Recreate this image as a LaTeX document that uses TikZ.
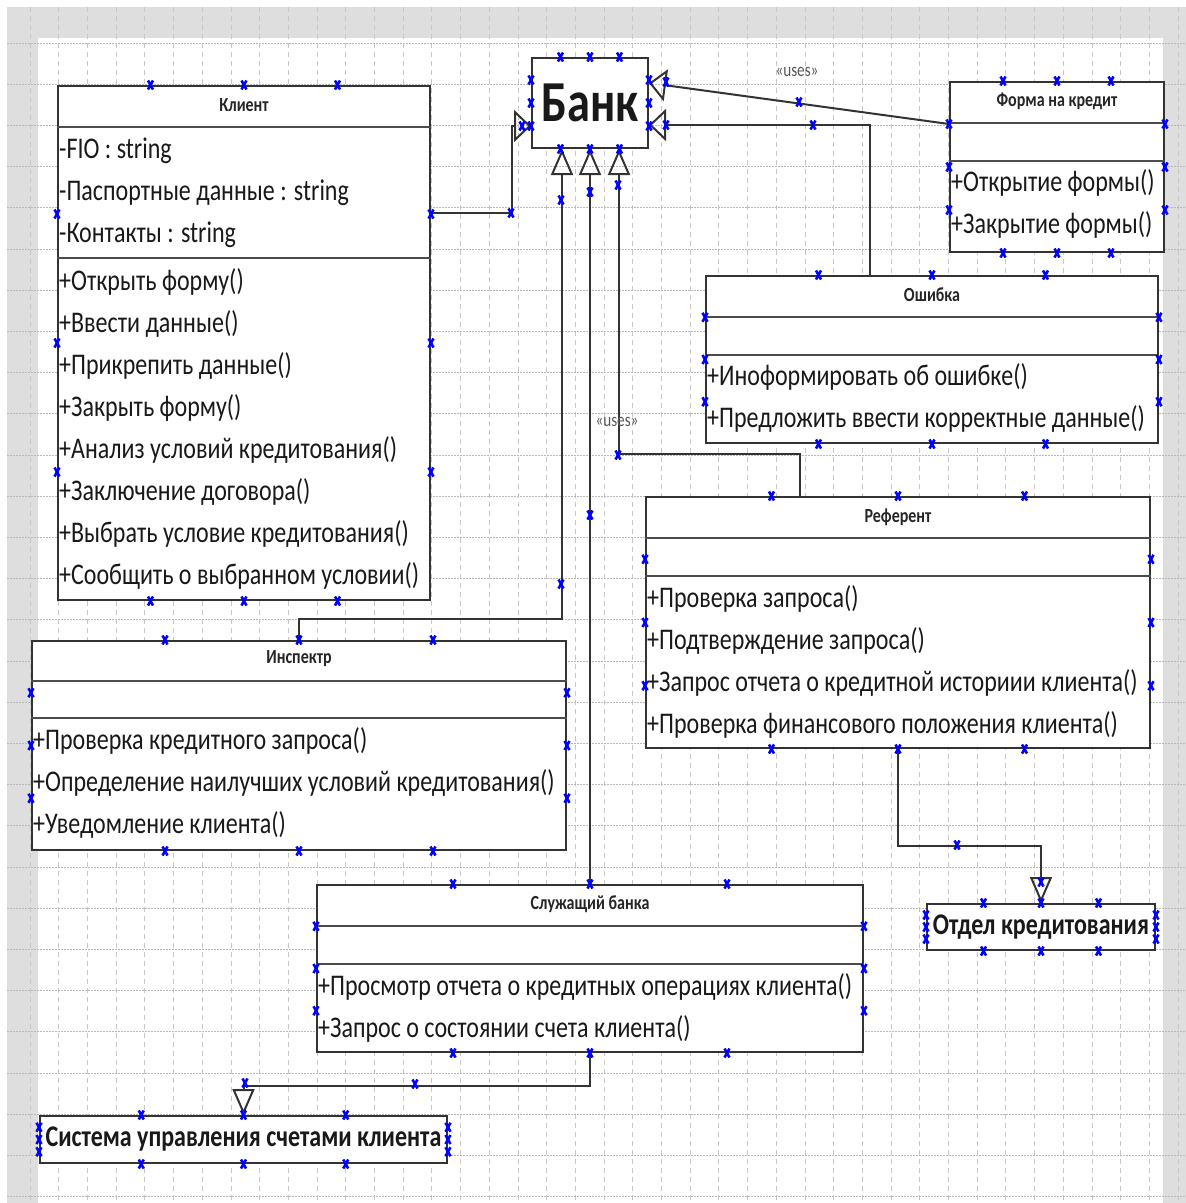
\documentclass[tikz,border=0pt]{standalone}
\usepackage{fontspec}
\newfontfamily\umlfont[FakeStretch=0.8]{Carlito}
\usetikzlibrary{calc,arrows.meta}

\tikzset{
  classbox/.style={draw=black!80, line width=2pt, fill=white, inner sep=0pt},
  sep/.style={draw=black!70, line width=2.5pt},
  title/.style={font=\umlfont\bfseries\fontsize{20}{24}\selectfont, text=black!85, inner sep=0pt},
  member/.style={font=\umlfont\fontsize{30}{36}\selectfont, text=black!90, anchor=west, inner sep=0pt},
  bigname/.style={font=\umlfont\bfseries\fontsize{30}{36}\selectfont, text=black!90},
  uses/.style={font=\umlfont\fontsize{19}{22}\selectfont, text=black!65, inner sep=0pt},
  genv/.style={draw=black!80, line width=2pt, -{Triangle[open, length=26pt, width=22pt]}},
  genh/.style={draw=black!80, line width=2pt, -{Triangle[open, length=17pt, width=32pt]}},
  vgrid/.style={draw=black!22, line width=0.8pt, dash pattern=on 5pt off 4pt},
  hgrid/.style={draw=black!28, line width=0.8pt, dash pattern=on 1.5pt off 1.5pt},
  handle/.style={draw=blue, line width=2.6pt},
}
\newcommand\hmark[1]{\draw[handle] #1 +(-2.5,-4.5) -- +(2.5,4.5) #1 +(-2.5,4.5) -- +(2.5,-4.5);}

\begin{document}
\begin{tikzpicture}[x=1pt, y=-1pt]
\useasboundingbox (0,0) rectangle (1186,1203);

% page and grid
\fill[white] (0,0) rectangle (1186,1203);
\fill[black!13] (7,7) rectangle (1186,1203);
\fill[white] (38,38) rectangle (1163,1203);
\foreach \i in {0,...,40} \draw[vgrid] ({30+28.7*\i},7) -- ({30+28.7*\i},1203);
\foreach \i in {0,...,28} \draw[hgrid] (7,{43+41.2*\i}) -- (1186,{43+41.2*\i});

% classes
\node[classbox, minimum width=116pt, minimum height=90pt, font=\umlfont\bfseries\fontsize{58}{64}\selectfont, text=black!90] (bank) at (590,103) {Банк};

\node[classbox, minimum width=372pt, minimum height=514pt] (klient) at (244,343) {};
\draw[sep] ($(klient.north west)+(0,42)$) -- ($(klient.north east)+(0,42)$);
\draw[sep] ($(klient.north west)+(0,173)$) -- ($(klient.north east)+(0,173)$);
\node[title] (klient-t) at ($(klient.north)+(0,20)$) {Клиент};
\foreach \t [count=\i] in {-FIO : string, -Паспортные данные : string, -Контакты : string}
  \node[member] (klient-a\i) at ($(klient.north west)+(2,24+42*\i)$) {\t};
\foreach \t [count=\i] in {+Открыть форму(), +Ввести данные(), +Прикрепить данные(), +Закрыть форму(), +Анализ условий кредитования(), +Заключение договора(), +Выбрать условие кредитования(), +Сообщить о выбранном условии()}
  \node[member] (klient-m\i) at ($(klient.north west)+(2,155+42*\i)$) {\t};

\node[classbox, minimum width=214pt, minimum height=170pt] (forma) at (1057,167) {};
\draw[sep] ($(forma.north west)+(0,42)$) -- ($(forma.north east)+(0,42)$);
\draw[sep] ($(forma.north west)+(0,80)$) -- ($(forma.north east)+(0,80)$);
\node[title] (forma-t) at ($(forma.north)+(0,20)$) {Форма на кредит};
\foreach \t [count=\i] in {+Открытие формы(), +Закрытие формы()}
  \node[member] (forma-m\i) at ($(forma.north west)+(2,60+42*\i)$) {\t};

\node[classbox, minimum width=452pt, minimum height=167pt] (oshibka) at (932,359.5) {};
\draw[sep] ($(oshibka.north west)+(0,42)$) -- ($(oshibka.north east)+(0,42)$);
\draw[sep] ($(oshibka.north west)+(0,80)$) -- ($(oshibka.north east)+(0,80)$);
\node[title] (oshibka-t) at ($(oshibka.north)+(0,20)$) {Ошибка};
\foreach \t [count=\i] in {+Иноформировать об ошибке(), +Предложить ввести корректные данные()}
  \node[member] (oshibka-m\i) at ($(oshibka.north west)+(2,60+42*\i)$) {\t};

\node[classbox, minimum width=504pt, minimum height=251pt] (referent) at (898,622.5) {};
\draw[sep] ($(referent.north west)+(0,42)$) -- ($(referent.north east)+(0,42)$);
\draw[sep] ($(referent.north west)+(0,80)$) -- ($(referent.north east)+(0,80)$);
\node[title] (referent-t) at ($(referent.north)+(0,21)$) {Референт};
\foreach \t [count=\i] in {+Проверка запроса(), +Подтверждение запроса(), +Запрос отчета о кредитной историии клиента(), +Проверка финансового положения клиента()}
  \node[member] (referent-m\i) at ($(referent.north west)+(2,61+42*\i)$) {\t};

\node[classbox, minimum width=534pt, minimum height=209pt] (inspektr) at (299,745.5) {};
\draw[sep] ($(inspektr.north west)+(0,41)$) -- ($(inspektr.north east)+(0,41)$);
\draw[sep] ($(inspektr.north west)+(0,78)$) -- ($(inspektr.north east)+(0,78)$);
\node[title] (inspektr-t) at ($(inspektr.north)+(0,19)$) {Инспектр};
\foreach \t [count=\i] in {+Проверка кредитного запроса(), +Определение наилучших условий кредитования(), +Уведомление клиента()}
  \node[member] (inspektr-m\i) at ($(inspektr.north west)+(2,59+42*\i)$) {\t};

\node[classbox, minimum width=546pt, minimum height=167pt] (sluzh) at (590,968.5) {};
\draw[sep] ($(sluzh.north west)+(0,42)$) -- ($(sluzh.north east)+(0,42)$);
\draw[sep] ($(sluzh.north west)+(0,80)$) -- ($(sluzh.north east)+(0,80)$);
\node[title] (sluzh-t) at ($(sluzh.north)+(0,20)$) {Служащий банка};
\foreach \t [count=\i] in {+Просмотр отчета о кредитных операциях клиента(), +Запрос о состоянии счета клиента()}
  \node[member] (sluzh-m\i) at ($(sluzh.north west)+(2,61+42*\i)$) {\t};

\node[classbox, bigname, minimum width=228pt, minimum height=46pt] (otdel) at (1041,927) {Отдел кредитования};
\node[classbox, bigname, minimum width=407pt, minimum height=47pt] (sistema) at (243.5,1139.5) {Система управления счетами клиента};

% generalizations
\draw[genh] ([yshift=130pt]klient.east) -- ++(81,0) |- ([yshift=-23pt]bank.west);
\draw[genh] ([yshift=43pt]forma.west) -- ([yshift=20pt]bank.east);
\draw[genh] ([xshift=-62pt]oshibka.north) |- ([yshift=-22pt]bank.east);
\draw[genv] (inspektr.north) -- ++(0,-21) -| ([xshift=-28pt]bank.south);
\draw[genv] (sluzh.north) -- (bank.south);
\draw[genv] ([xshift=-98pt]referent.north) -- ++(0,-42) -| ([xshift=29pt]bank.south);
\draw[genv] (referent.south) -- ++(0,97) -| (otdel.north);
\draw[genv] (sluzh.south) -- ++(0,33) -| (sistema.north);

\node[uses] (uses-a) at (797,72) {«uses»};
\node[uses] (uses-b) at (617,422) {«uses»};

% selection handles
\foreach \n in {bank,klient,forma,oshibka,referent,inspektr,sluzh,otdel,sistema}
  \foreach \f in {0.25,0.5,0.75} {
    \hmark{($(\n.north west)!\f!(\n.north east)$)}
    \hmark{($(\n.south west)!\f!(\n.south east)$)}
    \hmark{($(\n.north west)!\f!(\n.south west)$)}
    \hmark{($(\n.north east)!\f!(\n.south east)$)}
  }
\foreach \p in {(511,213), (522,126), (799,102), (666,82), (666,125), (813,125), (561,200), (590,192), (618,185), (561,584), (590,515), (618,455), (957,845), (1041,882), (415,1084), (245,1083)}
  {\hmark{\p}}
\end{tikzpicture}
\end{document}
